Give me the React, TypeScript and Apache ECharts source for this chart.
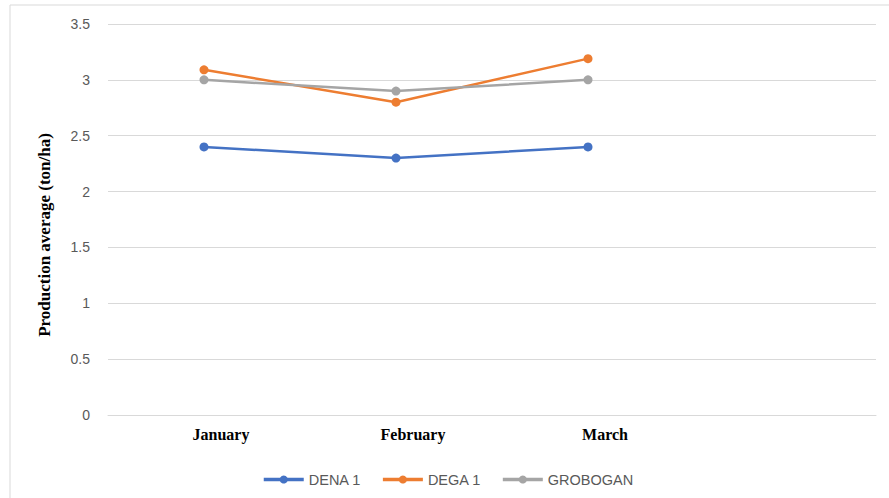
import React, { useEffect, useRef } from "react";
import * as echarts from "echarts";

const categories = ["January", "February", "March", ""];
const dena1 = [2.4, 2.3, 2.4];
const dega1 = [3.09, 2.8, 3.19];
const grobogan = [3.0, 2.9, 3.0];
const seriesNames = ["DENA 1", "DEGA 1", "GROBOGAN"];
const colors = ["#4472C4", "#ED7D31", "#A5A5A5"];
const yTitle = "Production average (ton/ha)";

export default function App() {
  const ref = useRef<HTMLDivElement>(null);
  useEffect(() => {
    if (!ref.current) return;
    const chart = echarts.init(ref.current, null, { renderer: "svg" });
    const values = [dena1, dega1, grobogan];
    chart.setOption({
      animation: false,
      backgroundColor: "#ffffff",
      grid: { left: 108, right: 13, top: 24, bottom: 83, containLabel: false },
      legend: {
        left: 257,
        top: 467,
        itemWidth: 40,
        itemHeight: 10,
        itemGap: 20,
        lineStyle: { width: 3.5 },
        textStyle: { fontFamily: "Liberation Sans", fontSize: 14.5, color: "#595959" },
        data: seriesNames,
      },
      xAxis: {
        type: "category",
        data: categories,
        boundaryGap: true,
        axisLine: { show: true, lineStyle: { color: "#D9D9D9", width: 1 } },
        axisTick: { show: false },
        axisLabel: {
          interval: 0,
          margin: 11,
          padding: [0, 0, 0, 34],
          fontFamily: "Liberation Serif",
          fontWeight: "bold",
          fontSize: 16,
          color: "#000000",
        },
      },
      yAxis: {
        type: "value",
        min: 0,
        max: 3.5,
        interval: 0.5,
        axisLine: { show: false },
        axisTick: { show: false },
        splitLine: { lineStyle: { color: "#D9D9D9", width: 1 } },
        axisLabel: {
          margin: 18,
          fontFamily: "Liberation Sans",
          fontSize: 14,
          color: "#595959",
        },
      },
      graphic: [
        {
          type: "rect",
          shape: { x: 10, y: 5, width: 1000, height: 1000 },
          style: { fill: "none", stroke: "#D9D9D9", lineWidth: 1 },
          silent: true,
        },
        {
          type: "text",
          x: 44,
          y: 235,
          rotation: Math.PI / 2,
          style: {
            text: yTitle,
            fontFamily: "Liberation Serif",
            fontWeight: "bold",
            fontSize: 17,
            fill: "#000000",
            align: "center",
            verticalAlign: "middle",
          },
        },
      ],
      series: seriesNames.map((name, i) => ({
        name,
        type: "line",
        data: values[i],
        symbol: "circle",
        symbolSize: 9,
        color: colors[i],
        lineStyle: { width: 2.5, color: colors[i] },
        itemStyle: { color: colors[i] },
      })),
    });
    return () => chart.dispose();
  }, []);
  return (
    <div
      ref={ref}
      style={{ position: "fixed", left: 0, top: 0, width: 889, height: 498 }}
    />
  );
}
